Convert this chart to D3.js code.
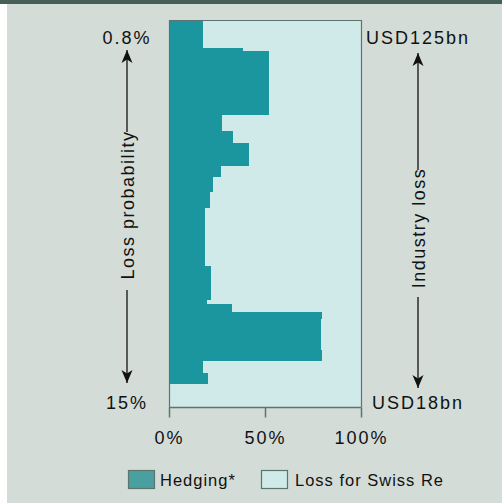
<!DOCTYPE html>
<html>
<head>
<meta charset="utf-8">
<script src="https://cdn.jsdelivr.net/npm/d3@7"></script>
<style>
body { margin: 0; background: #ffffff; }
text { font-family: "Liberation Sans", Arial, sans-serif; fill: #111; }
</style>
</head>
<body>
<svg id="chart" width="502" height="503"></svg>
<script>
// bin edges on the loss scale, top to bottom (100 = USD125bn / 0.8%, 0 = USD18bn / 15%)
var binEdges = [100, 92.8, 92.0, 75.5, 71.3, 68.2, 62.3, 59.4, 55.6, 51.4, 36.4, 27.6, 26.6, 24.5, 22.7, 14.7, 11.9, 8.8, 5.9, 0];
// share of each bin that is hedged, in %
var hedging = [17.7, 38.5, 52, 27.6, 33.3, 41.7, 27, 23, 21.4, 18.8, 21.9, 19.8, 32.8, 79.7, 79.2, 79.7, 17.7, 20.3, 0];
var xTicks = [0, 50, 100];
var leftLabels = ["0.8%", "15%"];
var rightLabels = ["USD125bn", "USD18bn"];
var seriesNames = ["Hedging*", "Loss for Swiss Re"];

var svg = d3.select("#chart");
var width = +svg.attr("width");
var height = +svg.attr("height");

var colHedge = "#1b959e";
var colLoss = "#d0e9e9";
var colFrame = "#5d746e";

svg.append("rect").attr("x", 7).attr("y", 0).attr("width", width - 7).attr("height", height).attr("fill", "#d3dcd7");
svg.append("rect").attr("x", 0).attr("y", 0).attr("width", width).attr("height", 4).attr("fill", "#465f58");

var x = d3.scaleLinear().domain([0, 100]).range([169, 361]);
var y = d3.scaleLinear().domain([0, 100]).range([407, 20]);

var bins = hedging.map(function (h, i) {
	return { hedge: h, loss: 100 - h, top: binEdges[i], bottom: binEdges[i + 1] };
});

var g = svg.append("g");

g.selectAll(".loss")
	.data(bins)
	.enter().append("rect")
	.attr("class", "loss")
	.attr("x", function (d) { return x(d.hedge); })
	.attr("y", function (d) { return y(d.top); })
	.attr("width", function (d) { return x(100) - x(d.hedge); })
	.attr("height", function (d) { return y(d.bottom) - y(d.top); })
	.attr("fill", colLoss)
	.attr("shape-rendering", "crispEdges");

g.selectAll(".hedge")
	.data(bins)
	.enter().append("rect")
	.attr("class", "hedge")
	.attr("x", x(0))
	.attr("y", function (d) { return y(d.top); })
	.attr("width", function (d) { return x(d.hedge) - x(0); })
	.attr("height", function (d) { return y(d.bottom) - y(d.top); })
	.attr("fill", colHedge)
	.attr("shape-rendering", "crispEdges");

// frame
svg.append("path")
	.attr("d", "M" + (x(0) + 0.5) + "," + (y(0)) + "V" + (y(100) + 0.5) + "H" + (x(100) + 0.5) + "V" + y(0))
	.attr("fill", "none")
	.attr("stroke", colFrame)
	.attr("stroke-width", 1.2);

var xAxis = svg.append("g")
	.attr("transform", "translate(0," + (y(0) + 0.5) + ")")
	.call(d3.axisBottom(x).tickValues(xTicks).tickSize(10).tickPadding(14)
		.tickFormat(function (d) { return d + "%"; }));
xAxis.select(".domain").attr("stroke", colFrame).attr("stroke-width", 1.5).attr("d", "M" + x(0) + ",0H" + (x(100) + 0.5));
xAxis.selectAll(".tick line").attr("stroke", colFrame).attr("stroke-width", 1.5);
xAxis.selectAll(".tick text")
	.attr("font-size", 18)
	.attr("letter-spacing", 2)
	.attr("fill", "#111")
	.style("font-family", "'Liberation Sans', Arial, sans-serif");

// arrowheads
var defs = svg.append("defs");
defs.append("marker")
	.attr("id", "arrow")
	.attr("viewBox", "0 -6 14 12")
	.attr("refX", 13)
	.attr("refY", 0)
	.attr("markerWidth", 14)
	.attr("markerHeight", 12)
	.attr("markerUnits", "userSpaceOnUse")
	.attr("orient", "auto")
	.append("path")
	.attr("d", "M0,-5.5L13,0L0,5.5L3.5,0Z")
	.attr("fill", "#111");

function sideAxis(cx, labels, title, titleY, tipTop, lineTop, lineBottom, tipBottom, spacing) {
	svg.append("text")
		.attr("x", cx).attr("y", 44)
		.attr("text-anchor", "middle")
		.attr("font-size", 18).attr("letter-spacing", 2)
		.text(labels[0]);
	svg.append("text")
		.attr("x", cx).attr("y", 409)
		.attr("text-anchor", "middle")
		.attr("font-size", 18).attr("letter-spacing", 2)
		.text(labels[1]);
	svg.append("line")
		.attr("x1", cx).attr("x2", cx)
		.attr("y1", lineTop).attr("y2", tipTop)
		.attr("stroke", "#111").attr("stroke-width", 1.3)
		.attr("marker-end", "url(#arrow)");
	svg.append("line")
		.attr("x1", cx).attr("x2", cx)
		.attr("y1", lineBottom).attr("y2", tipBottom)
		.attr("stroke", "#111").attr("stroke-width", 1.3)
		.attr("marker-end", "url(#arrow)");
	svg.append("text")
		.attr("transform", "translate(" + (cx + 6.5) + "," + titleY + ") rotate(-90)")
		.attr("text-anchor", "middle")
		.attr("font-size", 18).attr("letter-spacing", spacing)
		.text(title);
}

sideAxis(127, leftLabels, "Loss probability", 205, 50, 132, 290, 383, 1.5);
sideAxis(418, rightLabels, "Industry loss", 228, 53, 170, 297, 388, 1.5);

// legend
var legend = svg.append("g");
var legendItems = [
	{ name: seriesNames[0], fill: "#4a9fa1", x: 128, tx: 160 },
	{ name: seriesNames[1], fill: colLoss, x: 261, tx: 295 }
];
legend.selectAll("rect")
	.data(legendItems)
	.enter().append("rect")
	.attr("x", function (d) { return d.x + 0.5; })
	.attr("y", 470.5)
	.attr("width", 26)
	.attr("height", 18)
	.attr("fill", function (d) { return d.fill; })
	.attr("stroke", colFrame)
	.attr("stroke-width", 1.2);
legend.selectAll("text")
	.data(legendItems)
	.enter().append("text")
	.attr("x", function (d) { return d.tx; })
	.attr("y", 486)
	.attr("font-size", 16.5)
	.attr("letter-spacing", 1)
	.text(function (d) { return d.name; });
</script>
</body>
</html>
